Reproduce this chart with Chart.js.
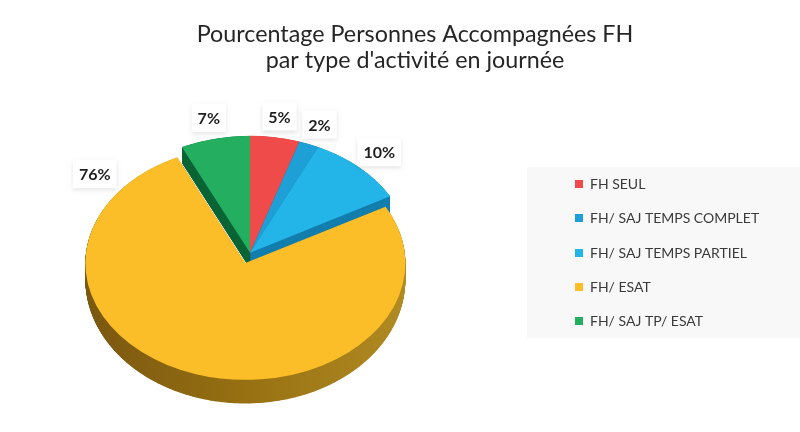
<!DOCTYPE html>
<html><head><meta charset="utf-8">
<script src="https://cdn.jsdelivr.net/npm/chart.js@4/dist/chart.umd.min.js"></script>
<style>html,body{margin:0;padding:0;background:#fff}canvas{display:block}</style>
</head><body>
<canvas id="c" width="800" height="432"></canvas>
<script>
// ---- data ----
const titleLines = ['Pourcentage Personnes Accompagnées FH', "par type d'activité en journée"];
const categories = ['FH SEUL', 'FH/ SAJ TEMPS COMPLET', 'FH/ SAJ TEMPS PARTIEL', 'FH/ ESAT', 'FH/ SAJ TP/ ESAT'];
const percentages = [5, 2, 10, 76, 7];
const sliceColors = ['#F04B4B', '#1EA0D7', '#23B4E8', '#FBBE28', '#23AF5F'];
const sideColors = ['#9E2A2A', '#0F6A95', '#147FAE', '#9C7414', '#0B6536'];

function labelText(v) { return v + '%'; }

const pie3d = {
  id: 'pie3d',
  beforeDatasetsDraw(chart, args, o) {
    const ctx = chart.ctx;
    const els = chart.getDatasetMeta(0).data;
    if (!els.length) return;
    const cx = els[0].x, cy = els[0].y;
    const sy = o.tilt;
    const ex = els.map((el, i) => {
      const h = (el.startAngle + el.endAngle) / 2, d = o.explode[i] || 0;
      return [Math.cos(h) * d, Math.sin(h) * d];
    });
    const toScreen = (x, y) => [x, cy + (y - cy) * sy];
    const depth = (Y) => o.depthBack + o.depthGrowth * Math.max(0, Y - cy);
    const polys = els.map((el, i) => {
      const x = el.x + ex[i][0], y = el.y + ex[i][1], R = el.outerRadius;
      const pts = [toScreen(x, y)];
      const n = Math.max(4, Math.ceil((el.endAngle - el.startAngle) / 0.01));
      for (let k = 0; k <= n; k++) {
        const a = el.startAngle + (el.endAngle - el.startAngle) * k / n;
        pts.push(toScreen(x + R * Math.cos(a), y + R * Math.sin(a)));
      }
      return pts;
    });
    const steps = 50;
    for (let s = steps; s >= 1; s--) {
      const f = s / steps;
      polys.forEach((pts, i) => {
        if (i === 3) {
          const R = els[i].outerRadius, x = els[i].x + ex[i][0];
          const gr = ctx.createLinearGradient(x - R, 0, x + R, 0);
          gr.addColorStop(0, '#7A5710');
          gr.addColorStop(0.5, '#977012');
          gr.addColorStop(1, '#B08A22');
          ctx.fillStyle = gr;
        } else {
          ctx.fillStyle = o.sideColors[i];
        }
        ctx.beginPath();
        pts.forEach((p, k) => {
          const Y = p[1] + f * depth(p[1]);
          if (k === 0) ctx.moveTo(p[0], Y); else ctx.lineTo(p[0], Y);
        });
        ctx.closePath();
        ctx.fill();
      });
    }
    els.forEach((el, i) => {
      ctx.save();
      ctx.translate(0, cy * (1 - sy));
      ctx.scale(1, sy);
      ctx.translate(ex[i][0], ex[i][1]);
      el.draw(ctx);
      ctx.restore();
    });
    const vals = chart.data.datasets[0].data;
    ctx.save();
    ctx.font = o.labelFont;
    ctx.textAlign = 'center';
    ctx.textBaseline = 'middle';
    els.forEach((el, i) => {
      const a = el.startAngle + o.labelAt[i] * (el.endAngle - el.startAngle);
      const r = el.outerRadius * o.labelRadius;
      const X = cx + r * Math.cos(a);
      const Y = cy + r * Math.sin(a) * sy;
      const txt = labelText(vals[i]);
      const w = ctx.measureText(txt).width + 12, hgt = 28;
      ctx.save();
      ctx.shadowColor = 'rgba(0,0,0,0.10)';
      ctx.shadowBlur = 4;
      ctx.shadowOffsetY = 2;
      ctx.fillStyle = '#FFFFFF';
      ctx.fillRect(X - w / 2, Y - hgt / 2, w, hgt);
      ctx.restore();
      ctx.fillStyle = '#1E1E1E';
      ctx.fillText(txt, X, Y + 1);
    });
    ctx.restore();
    return false;
  }
};

const legendBox = {
  id: 'legendBox',
  beforeInit(chart) {
    const box = {
      position: 'right', weight: 10, fullSize: false, options: {},
      left: 0, top: 0, right: 0, bottom: 0, width: 0, height: 0,
      isHorizontal() { return false; },
      update(maxWidth, maxHeight) {
        this.width = chart.options.plugins.legendBox.width;
        this.height = maxHeight;
      },
      getPadding() { return { left: 0, right: 0, top: 0, bottom: 0 }; },
      draw() {
        const o = chart.options.plugins.legendBox;
        const ctx = chart.ctx;
        ctx.save();
        ctx.fillStyle = '#F8F8F8';
        ctx.fillRect(this.left + o.panelInset, o.top, this.right - this.left - o.panelInset, o.bottom - o.top);
        ctx.font = o.font;
        ctx.textBaseline = 'middle';
        ctx.textAlign = 'left';
        const cols = chart.data.datasets[0].backgroundColor;
        const n = chart.data.labels.length;
        const step = (o.bottom - o.top) / n;
        chart.data.labels.forEach((lab, i) => {
          const y = o.top + step * (i + 0.5);
          ctx.fillStyle = cols[i];
          ctx.fillRect(this.left + o.swatchInset, Math.round(y - 4), 8, 8);
          ctx.fillStyle = '#3A3A3A';
          ctx.fillText(lab, this.left + o.textInset, y + 0.5);
        });
        ctx.restore();
      }
    };
    Chart.layouts.addBox(chart, box);
  }
};

function make() {
  new Chart(document.getElementById('c'), {
    type: 'pie',
    data: {
      labels: categories,
      datasets: [{ data: percentages, backgroundColor: sliceColors, borderWidth: 0, radius: 160, clip: false }]
    },
    options: {
      responsive: false, animation: false, devicePixelRatio: 1,
      events: [],
      layout: { padding: { left: 30, right: 0, top: 0, bottom: 0 } },
      plugins: {
        legend: { display: false },
        tooltip: { enabled: false },
        title: {
          display: true, text: titleLines, color: '#262626',
          font: { family: 'Lato', size: 23.3, weight: 'normal', lineHeight: 1.1 },
          padding: { top: 22, bottom: 0 }
        },
        pie3d: {
          tilt: 0.73, depthBack: 16, depthGrowth: 0.06,
          explode: [0, 0, 0, 15, 0],
          sideColors: sideColors,
          labelAt: [0.5, 0.5, 0.5, 0.89, 0.5],
          labelRadius: 1.18,
          labelFont: 'bold 16px Lato'
        },
        legendBox: {
          width: 330, panelInset: 57, swatchInset: 105, textInset: 120,
          top: 167, bottom: 338,
          font: '14px Lato'
        }
      }
    },
    plugins: [pie3d, legendBox]
  });
}
if (document.fonts && document.fonts.load) {
  Promise.all([document.fonts.load('23px Lato'), document.fonts.load('bold 16px Lato'), document.fonts.load('14px Lato')])
    .then(make, make);
} else { make(); }
</script>
</body></html>
